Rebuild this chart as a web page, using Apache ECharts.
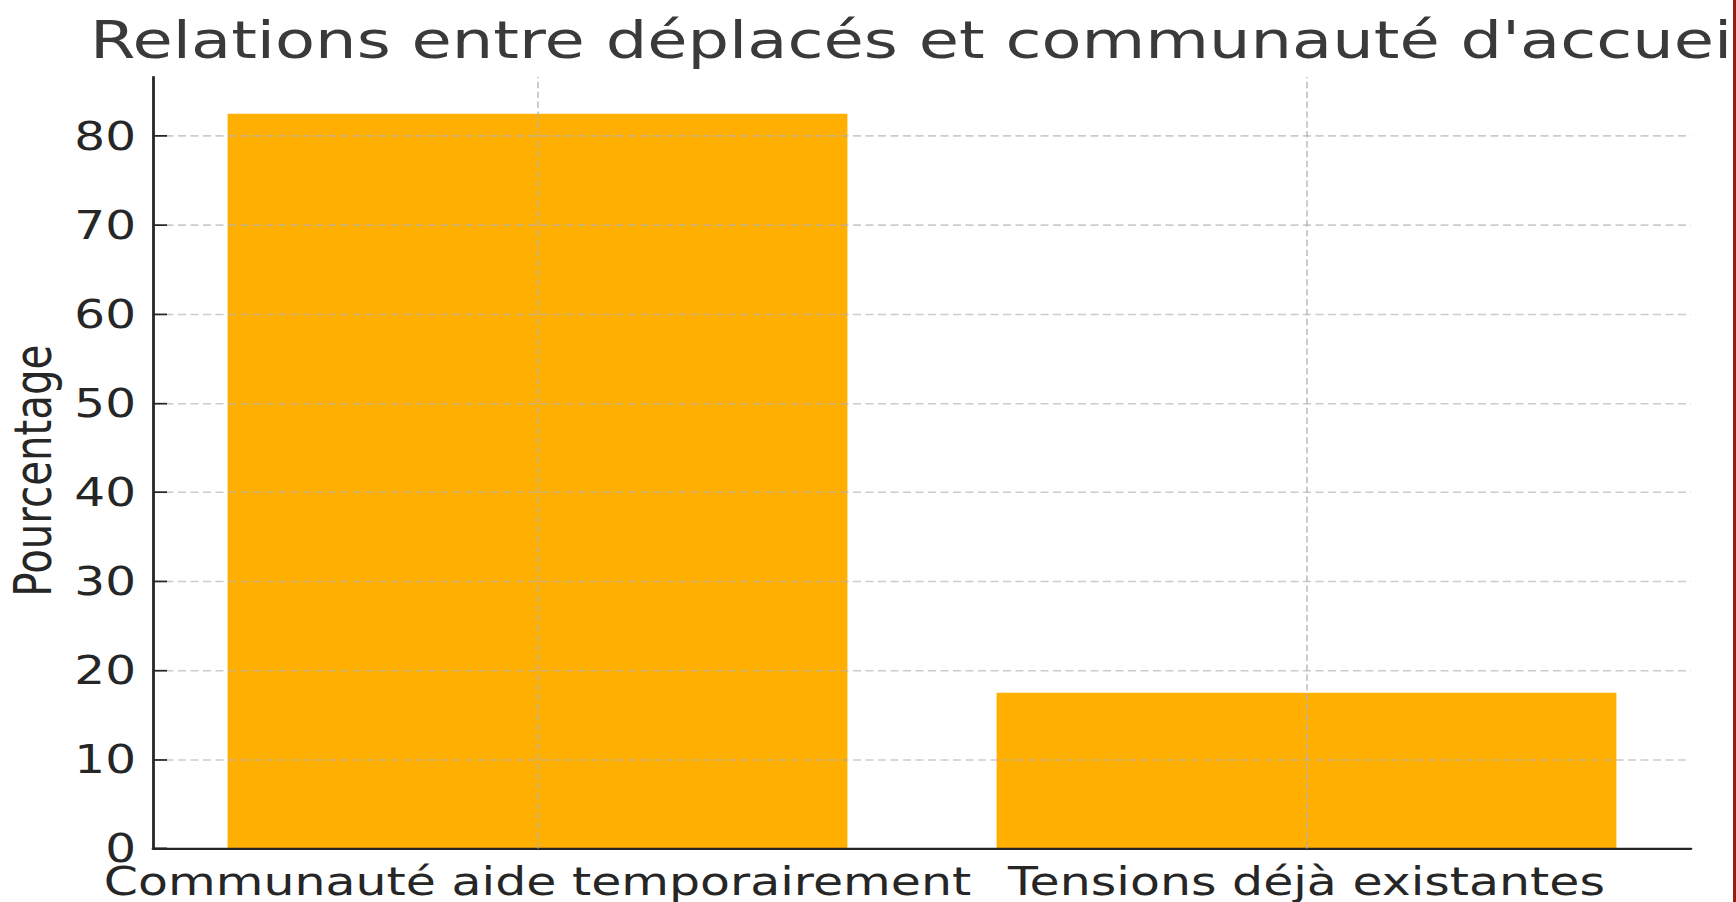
<!DOCTYPE html>
<html>
<head>
<meta charset="utf-8">
<script src="https://cdn.jsdelivr.net/npm/echarts@6/dist/echarts.min.js"></script>
<style>
  html, body { margin: 0; padding: 0; background: #fff; overflow: hidden; }
  /* the reference is squashed vertically, so draw taller and scale down */
  #chart { width: 1736px; height: 1142px; transform: scaleY(0.79); transform-origin: 0 0; }
</style>
</head>
<body>
<div id="chart"></div>
<script>
var categories = ['Communauté aide temporairement', 'Tensions déjà existantes'];
var values = [82.5, 17.5];
var yTicks = [0, 10, 20, 30, 40, 50, 60, 70, 80];
var yMax = 86.625;
var titleText = "Relations entre déplacés et communauté d'accueil";

(function() {
  var ink = '#262626';
  var font = 'DejaVu Sans';
  var gridLine = { color: 'rgba(176,176,176,0.65)', width: 2, type: [8, 4.5] };

  var chart = echarts.init(document.getElementById('chart'), null, { renderer: 'svg' });
  chart.setOption({
    animation: false,
    backgroundColor: '#fff',
    graphic: [
      { type: 'text', left: 90, top: 18, style: { text: titleText, fontSize: 65.5, fontFamily: font, fill: '#3a3a3a' } },
      { type: 'rect', shape: { x: 1733, y: 0, width: 3, height: 1142 }, style: { fill: '#9b1b0c' } }
    ],
    grid: { left: 152.3, right: 45, top: 97.5, bottom: 67.9, containLabel: false },
    xAxis: {
      type: 'category',
      data: categories,
      z: 3,
      axisLine: { lineStyle: { color: ink, width: 2.8 } },
      axisTick: { alignWithLabel: true, inside: true, length: 14, lineStyle: { color: ink, width: 2.2 } },
      axisLabel: { interval: 0, margin: 17, fontSize: 49, fontFamily: font, color: ink },
      splitLine: { show: false }
    },
    yAxis: {
      type: 'value',
      min: 0,
      max: yMax,
      interval: 10,
      z: 3,
      name: 'Pourcentage',
      nameLocation: 'middle',
      nameGap: 94,
      nameTextStyle: { fontSize: 51, fontFamily: font, color: ink, padding: [0, 20, 0, 0] },
      axisLine: { show: true, lineStyle: { color: ink, width: 2.8 } },
      axisTick: { show: true, inside: true, length: 14, customValues: yTicks, lineStyle: { color: ink, width: 2.2 } },
      axisLabel: { margin: 17, fontSize: 48.5, fontFamily: font, color: ink, customValues: yTicks },
      splitLine: { show: true, showMinLine: false, lineStyle: gridLine }
    },
    series: [{
      type: 'bar',
      data: values,
      barWidth: '80.6%',
      itemStyle: { color: '#ffaf00' },
      markLine: {
        silent: true,
        symbol: ['none', 'none'],
        label: { show: false },
        lineStyle: gridLine,
        data: categories.map(function(c) { return { xAxis: c }; })
      }
    }]
  });
})();
</script>
</body>
</html>
